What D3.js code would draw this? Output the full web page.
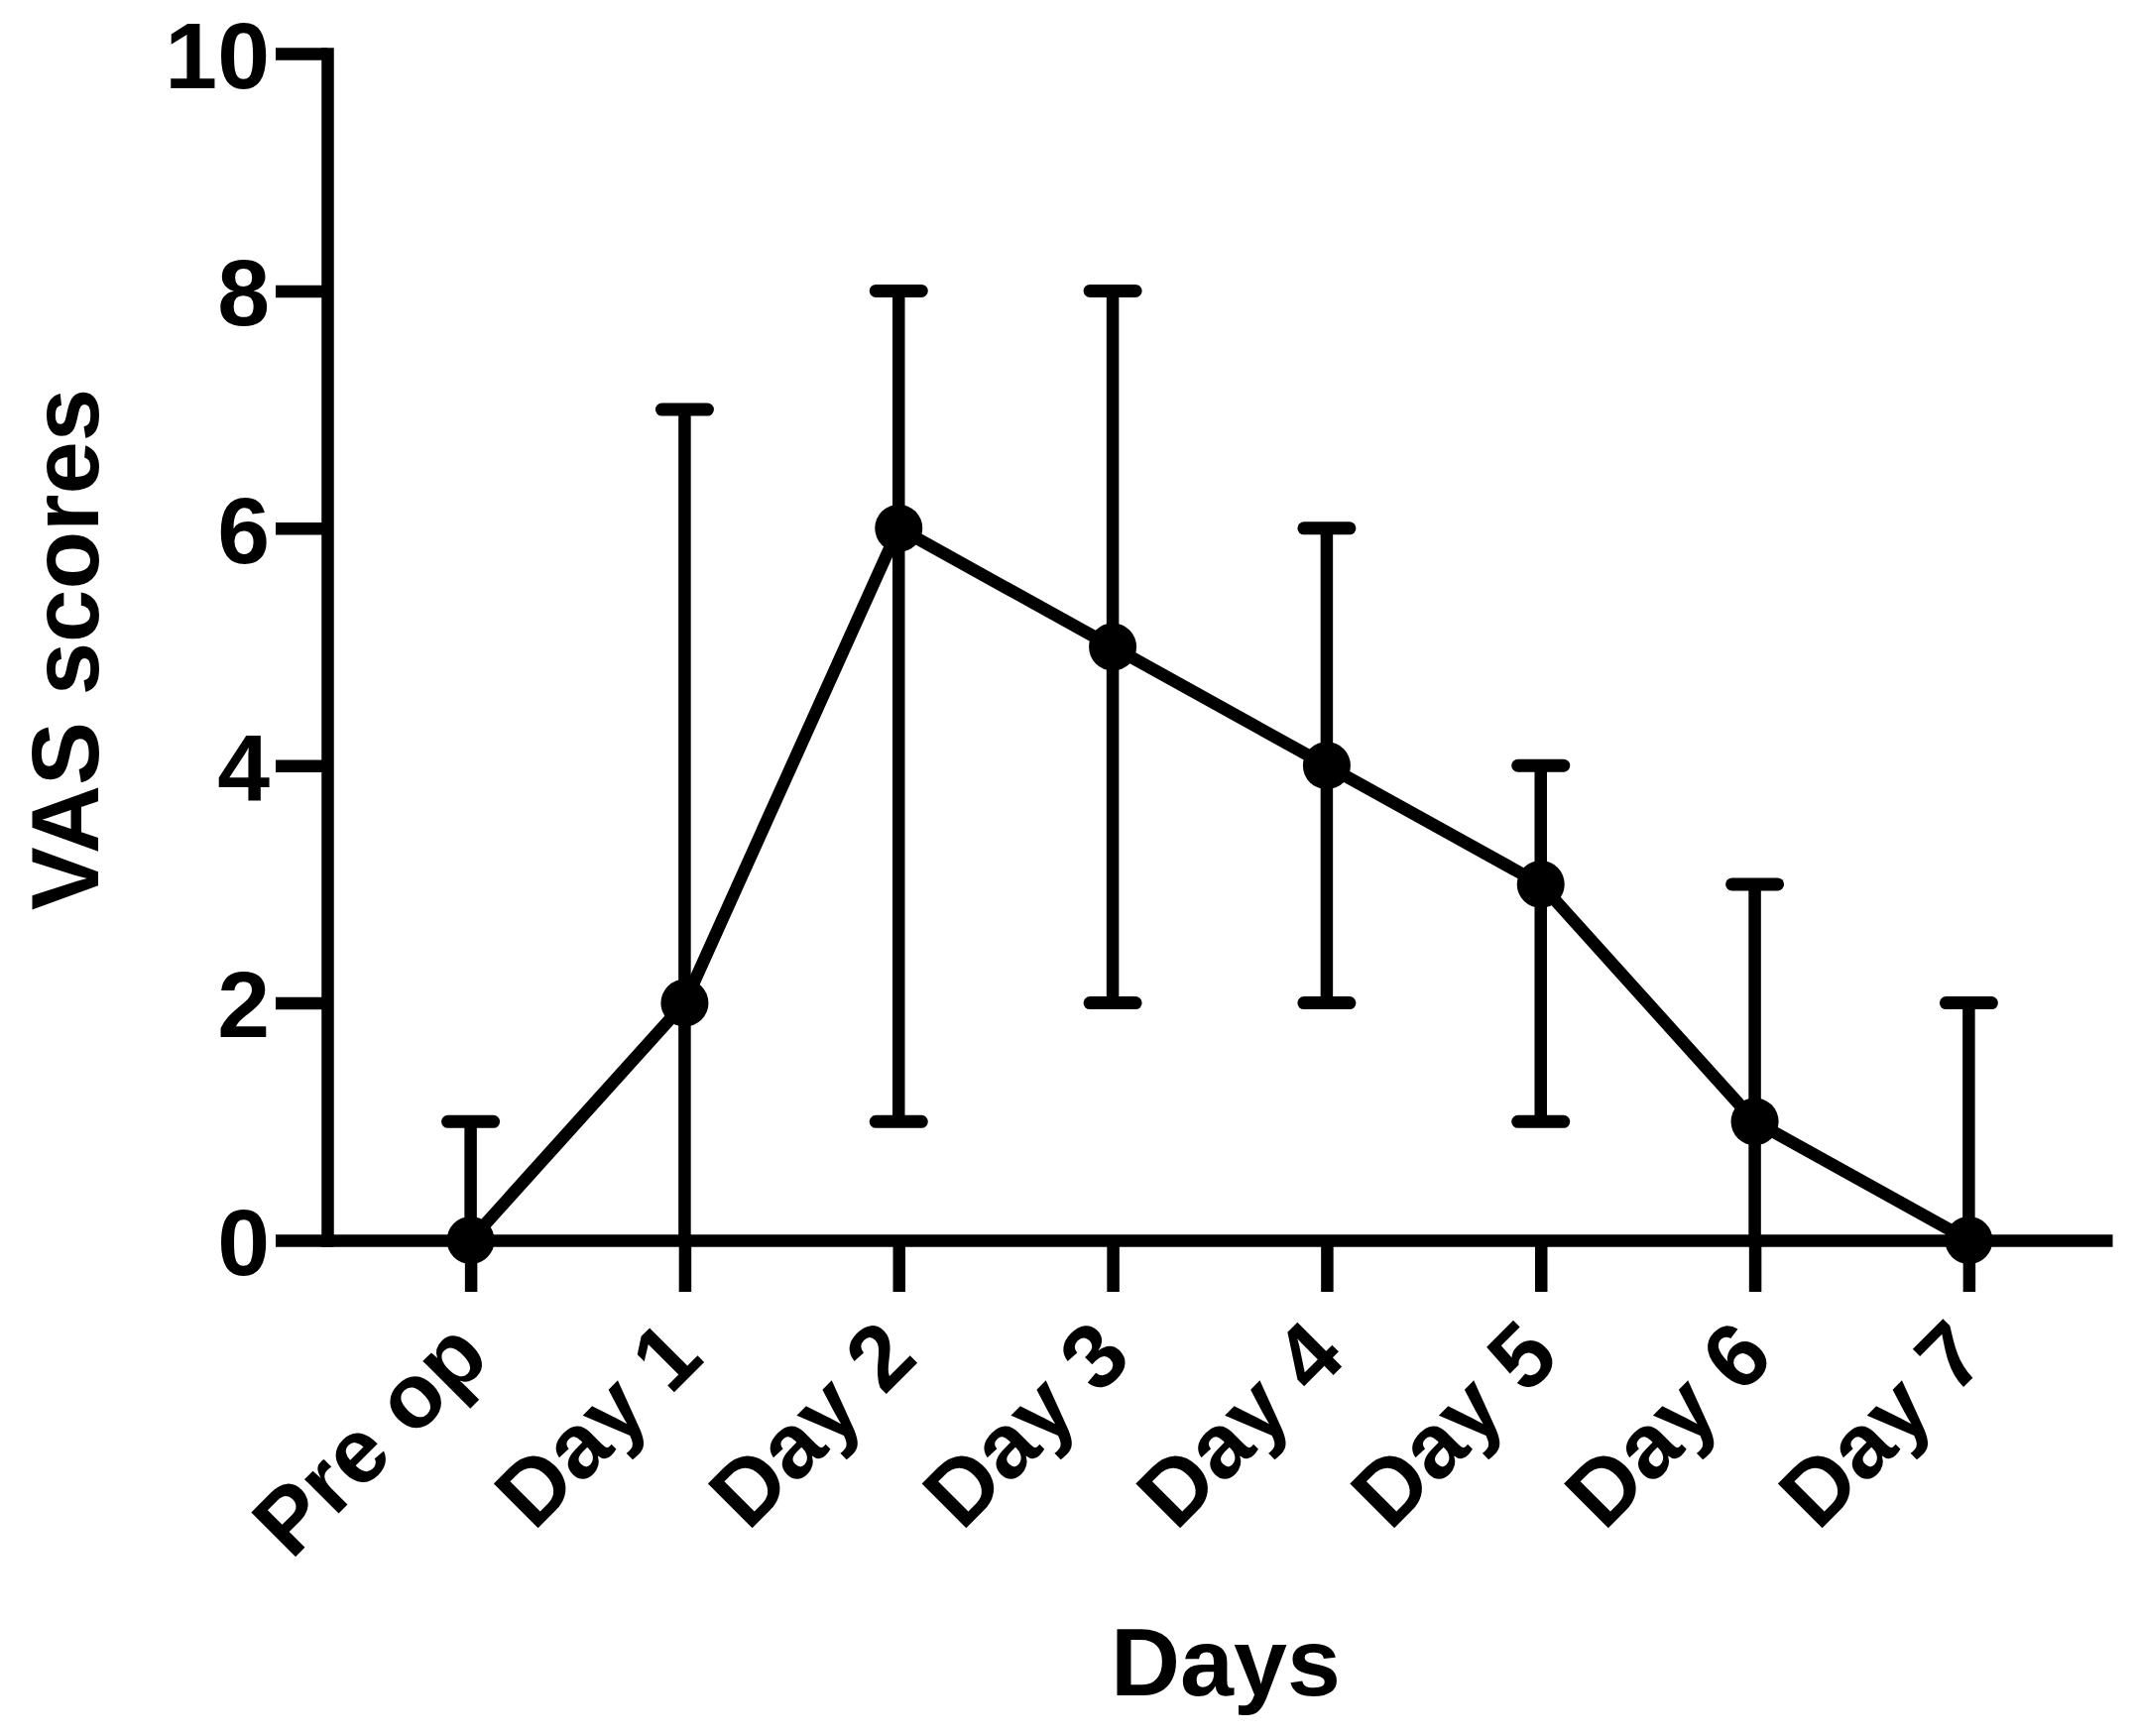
<!DOCTYPE html>
<html><head><meta charset="utf-8">
<script src="https://cdn.jsdelivr.net/npm/d3@7/dist/d3.min.js"></script>
<style>html,body{margin:0;padding:0;background:#fff}</style>
</head><body>
<svg id="chart" width="2154" height="1751" xmlns="http://www.w3.org/2000/svg"></svg>
<script>
const categories = ["Pre op", "Day 1", "Day 2", "Day 3", "Day 4", "Day 5", "Day 6", "Day 7"];
const centerValues = [0, 2, 6, 5, 4, 3, 1, 0];
const upperValues = [1, 7, 8, 8, 6, 4, 3, 2];
const lowerValues = [0, 0, 1, 2, 2, 1, 0, 0];
const yTickValues = [0, 2, 4, 6, 8, 10];
const xTitle = "Days";
const yTitle = "VAS scores";

const FONT = "Liberation Sans";
const SW = 12.5;
const svg = d3.select("#chart");
svg.append("rect").attr("width", 2154).attr("height", 1751).attr("fill", "#fff");

const x = d3.scalePoint().domain(categories).range([330, 2130]).padding(0.67);
const y = d3.scaleLinear().domain([0, 10]).range([1251, 54]);

const data = categories.map((c, i) => ({c, v: centerValues[i], hi: upperValues[i], lo: lowerValues[i]}));

// Y axis
const yAxis = svg.append("g").attr("transform", "translate(330,0)")
  .call(d3.axisLeft(y).tickValues(yTickValues).tickFormat(d3.format("d")).tickSize(52).tickSizeOuter(0).tickPadding(6));
yAxis.select(".domain").attr("stroke", "#000").attr("stroke-width", SW).attr("stroke-linecap", "square");
yAxis.selectAll(".tick line").attr("stroke", "#000").attr("stroke-width", SW);
yAxis.selectAll(".tick text").attr("fill", "#000").attr("font-family", FONT).attr("font-weight", "bold")
  .attr("font-size", 95).attr("dy", "0.36em");

// X axis
const xAxis = svg.append("g").attr("transform", "translate(0,1251)")
  .call(d3.axisBottom(x).tickSize(52).tickSizeOuter(0));
xAxis.select(".domain").attr("stroke", "#000").attr("stroke-width", SW);
xAxis.selectAll(".tick line").attr("stroke", "#000").attr("stroke-width", SW);
xAxis.selectAll(".tick text").attr("fill", "#000").attr("font-family", FONT).attr("font-weight", "bold")
  .attr("font-size", 92).attr("text-anchor", "end").attr("x", 0).attr("y", 0).attr("dy", 0)
  .attr("transform", "translate(21,121) rotate(-45)");
svg.selectAll(".domain").attr("fill", "none");

// Error bars
const eb = svg.append("g").attr("stroke", "#000");
eb.selectAll("line.v").data(data).join("line").attr("class", "v")
  .attr("x1", d => x(d.c)).attr("x2", d => x(d.c))
  .attr("y1", d => y(d.lo)).attr("y2", d => y(d.hi)).attr("stroke-width", SW);
eb.selectAll("line.hi").data(data).join("line").attr("class", "hi")
  .attr("x1", d => x(d.c) - 23).attr("x2", d => x(d.c) + 23)
  .attr("y1", d => y(d.hi)).attr("y2", d => y(d.hi)).attr("stroke-width", 13).attr("stroke-linecap", "round");
eb.selectAll("line.lo").data(data.filter(d => d.lo > 0)).join("line").attr("class", "lo")
  .attr("x1", d => x(d.c) - 23).attr("x2", d => x(d.c) + 23)
  .attr("y1", d => y(d.lo)).attr("y2", d => y(d.lo)).attr("stroke-width", 13).attr("stroke-linecap", "round");

// Line
svg.append("path").datum(data)
  .attr("d", d3.line().x(d => x(d.c)).y(d => y(d.v)))
  .attr("fill", "none").attr("stroke", "#000").attr("stroke-width", SW).attr("stroke-linejoin", "round");

// Markers
svg.append("g").selectAll("circle").data(data).join("circle")
  .attr("cx", d => x(d.c)).attr("cy", d => y(d.v)).attr("r", 24).attr("fill", "#000");

// Titles
svg.append("text").attr("x", 1236).attr("y", 1710).attr("text-anchor", "middle")
  .attr("font-family", FONT).attr("font-weight", "bold").attr("font-size", 97).attr("fill", "#000").text(xTitle);
svg.append("text").attr("transform", "translate(99,655) rotate(-90)").attr("text-anchor", "middle")
  .attr("font-family", FONT).attr("font-weight", "bold").attr("font-size", 96).attr("fill", "#000").text(yTitle);
</script>
</body></html>
